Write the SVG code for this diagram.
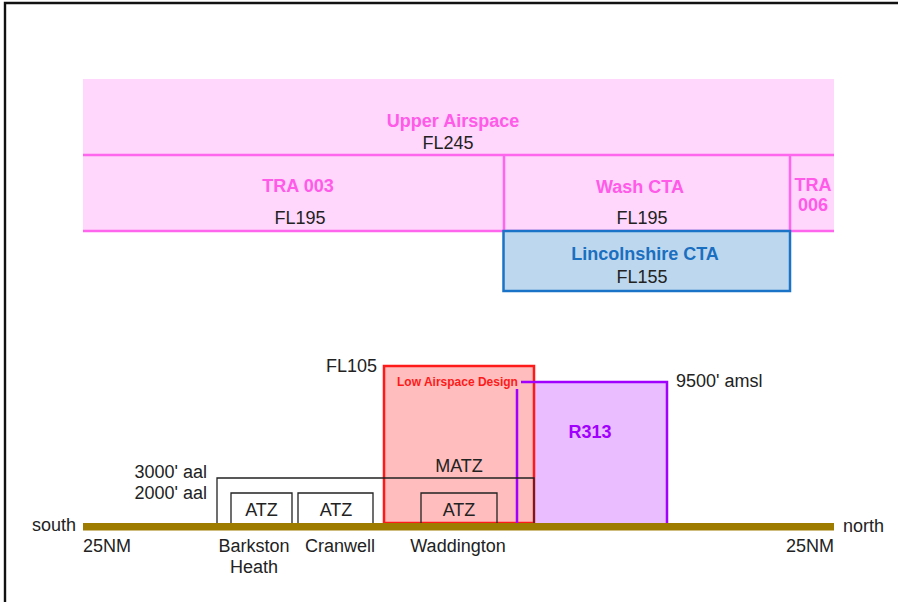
<svg xmlns="http://www.w3.org/2000/svg" width="898" height="602" viewBox="0 0 898 602">
<style>
text{font-family:"Liberation Sans",Arial,sans-serif;font-size:18px;fill:#222}
.mag{fill:#ff5ae8;font-weight:bold}
.band{fill:#ffd6fc;stroke:none}
.bl{stroke:#ff66ee;stroke-width:2.5;fill:none}
.mid{text-anchor:middle}
.end{text-anchor:end}
.box{fill:none;stroke:#222;stroke-width:1.3}
</style>
<rect width="898" height="602" fill="#fff"/>
<g id="frame"><path d="M5 602V3H898" fill="none" stroke="#111" stroke-width="2.4"/></g>

<g id="upper-airspace">
<rect class="band" x="83" y="79" width="751" height="76"/>
<text class="mag mid" x="453" y="127">Upper Airspace</text>
<text class="mid" x="448" y="149">FL245</text>
</g>
<g id="tra003">
<rect class="band" x="83" y="155" width="421" height="76"/>
<text class="mag mid" x="298" y="192">TRA 003</text>
<text class="mid" x="300" y="224">FL195</text>
</g>
<g id="wash-cta">
<rect class="band" x="504" y="155" width="286" height="76"/>
<text class="mag mid" x="640" y="193">Wash CTA</text>
<text class="mid" x="642" y="224">FL195</text>
</g>
<g id="tra006">
<rect class="band" x="790" y="155" width="44" height="76"/>
<text class="mag mid" x="813" y="191">TRA</text>
<text class="mag mid" x="813" y="211">006</text>
</g>
<g id="band-lines">
<path class="bl" d="M83 155H834M83 231H834M504 155V231M790 155V231"/>
</g>
<g id="lincolnshire-cta">
<rect x="503.5" y="231" width="286.5" height="60" fill="#bdd7ee" stroke="#1a73c6" stroke-width="2.5"/>
<text class="mid" x="645" y="260" style="fill:#1a6fc0;font-weight:bold">Lincolnshire CTA</text>
<text class="mid" x="642" y="283">FL155</text>
</g>

<g id="r313-fill"><rect x="517" y="382" width="150" height="141" fill="#e9bdff"/></g>
<g id="low-airspace-design">
<rect x="384" y="366" width="150" height="157" fill="#ffbdbd" stroke="#ff1a1a" stroke-width="2.5"/>
<text x="397" y="386" style="fill:#ff1a1a;font-weight:bold;font-size:12px">Low Airspace Design</text>
<text class="end" x="377" y="372">FL105</text>
</g>
<g id="r313">
<path d="M521 382H667V523M517 389V523" fill="none" stroke="#a100ff" stroke-width="2.5"/>
<text class="mid" x="590" y="438" style="fill:#a100ff;font-weight:bold">R313</text>
<text x="676" y="387">9500' amsl</text>
</g>
<g id="matz">
<path class="box" d="M217 523V478H534V523"/>
<text class="mid" x="459" y="472">MATZ</text>
<text class="end" x="207" y="478">3000' aal</text>
<text class="end" x="207" y="499">2000' aal</text>
</g>
<g id="atz-barkston">
<path class="box" d="M231 523V493H292V523"/>
<text class="mid" x="261.5" y="516">ATZ</text>
<text class="mid" x="254" y="552">Barkston</text>
<text class="mid" x="254" y="573">Heath</text>
</g>
<g id="atz-cranwell">
<path class="box" d="M298 523V493H373V523"/>
<text class="mid" x="336" y="516">ATZ</text>
<text class="mid" x="340" y="552">Cranwell</text>
</g>
<g id="atz-waddington">
<path class="box" d="M421 523V493H497V523"/>
<text class="mid" x="459" y="516">ATZ</text>
<text class="mid" x="458" y="552">Waddington</text>
</g>
<g id="ground">
<rect x="83" y="523" width="751" height="7.5" fill="#9e7c00"/>
<text class="end" x="76" y="531">south</text>
<text x="843" y="532">north</text>
<text x="83" y="552">25NM</text>
<text class="end" x="834" y="552">25NM</text>
</g>
</svg>
